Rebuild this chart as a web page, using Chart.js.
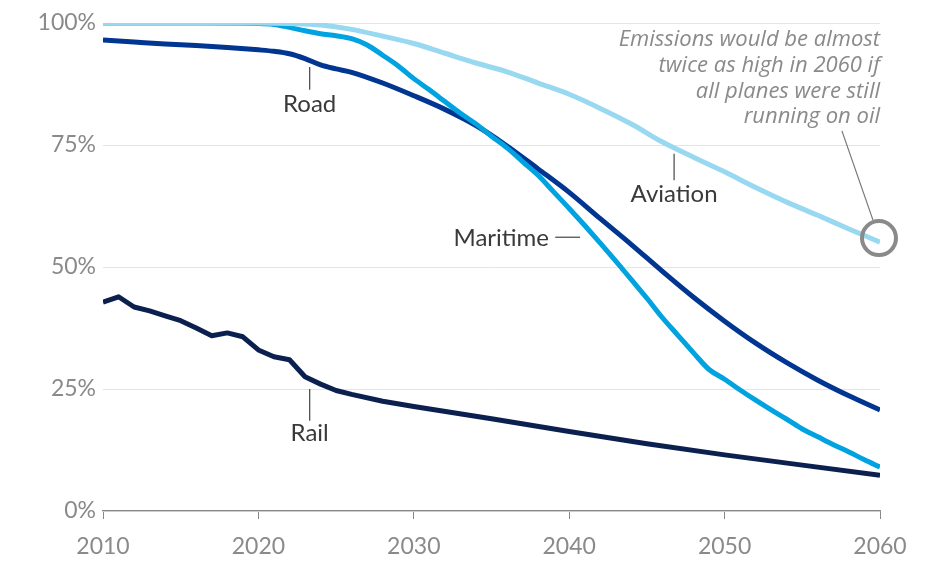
<!DOCTYPE html>
<html>
<head>
<meta charset="utf-8">
<script src="https://cdn.jsdelivr.net/npm/chart.js@4.4.1/dist/chart.umd.min.js"></script>
<style>
  html, body { margin: 0; padding: 0; background: #fff; }
</style>
</head>
<body>
<canvas id="emissions" width="948" height="562"></canvas>
<script>
// share of emissions still coming from oil, by transport mode (%)
const aviationYears = [2010, 2020, 2022, 2024, 2026, 2028, 2030, 2032, 2034, 2036, 2038, 2040, 2042, 2044, 2046, 2048, 2050, 2052, 2054, 2056, 2058, 2060];
const aviationShare = [100, 100, 99.9, 99.6, 98.7, 97.3, 95.8, 93.8, 91.8, 90.0, 87.7, 85.4, 82.5, 79.3, 75.6, 72.5, 69.5, 66.3, 63.3, 60.6, 57.8, 55.1];

const maritimeYears = [2010, 2016, 2020, 2021, 2022, 2023, 2024, 2025, 2026, 2027, 2028, 2029, 2030, 2031, 2032, 2033, 2034, 2035, 2036, 2037, 2038, 2039, 2040, 2041, 2042, 2043, 2044, 2045, 2046, 2047, 2048, 2049, 2050, 2051, 2052, 2053, 2054, 2055, 2056, 2057, 2058, 2059, 2060];
const maritimeShare = [100, 100, 99.9, 99.7, 99.1, 98.4, 97.8, 97.4, 96.8, 95.5, 93.4, 91.2, 88.6, 86.3, 83.9, 81.5, 79.3, 76.8, 74.4, 71.6, 68.8, 65.4, 62.0, 58.5, 54.9, 51.2, 47.4, 43.6, 39.6, 36.0, 32.4, 29.0, 27.0, 24.8, 22.7, 20.7, 18.8, 16.8, 15.2, 13.6, 12.1, 10.5, 9.0];

const roadYears = [2010, 2012, 2014, 2016, 2018, 2020, 2021, 2022, 2023, 2024, 2025, 2026, 2028, 2030, 2032, 2034, 2036, 2038, 2040, 2042, 2044, 2046, 2048, 2050, 2052, 2054, 2056, 2058, 2060];
const roadShare = [96.5, 96.1, 95.7, 95.4, 95.0, 94.5, 94.2, 93.7, 92.7, 91.4, 90.6, 89.9, 87.7, 85.1, 82.3, 79.0, 74.8, 70.1, 65.3, 59.9, 54.6, 49.1, 43.8, 38.9, 34.4, 30.4, 26.8, 23.6, 20.7];

const railYears = [2010, 2011, 2012, 2013, 2014, 2015, 2016, 2017, 2018, 2019, 2020, 2021, 2022, 2023, 2024, 2025, 2026, 2028, 2030, 2035, 2040, 2045, 2050, 2055, 2060];
const railShare = [42.8, 43.9, 41.8, 41.0, 40.0, 39.0, 37.5, 35.9, 36.5, 35.7, 33.0, 31.6, 31.0, 27.5, 26.0, 24.7, 23.9, 22.5, 21.4, 18.9, 16.3, 13.8, 11.5, 9.4, 7.3];

const yTicks = [0, 25, 50, 75, 100];
const xTicks = [2010, 2020, 2030, 2040, 2050, 2060];

const noteLines = ['Emissions would be almost', 'twice as high in 2060 if', 'all planes were still', 'running on oil'];

function points(years, values) {
  return years.map(function(y, i){ return { x: y, y: values[i] }; });
}

function series(label, years, values, color, smooth) {
  return {
    label: label,
    data: points(years, values),
    borderColor: color,
    borderWidth: 5,
    pointRadius: 0,
    cubicInterpolationMode: smooth ? 'monotone' : 'default',
    tension: 0,
    borderCapStyle: 'butt',
    borderJoinStyle: 'round',
    fill: false
  };
}

const FONT = 'Lato, "Noto Sans", sans-serif';

// series labels with their little leader strokes, in data units
const callouts = [
  { text: 'Road', x: 2023.3, y: 83.4, align: 'center', lead: [[2023.3, 91.0], [2023.3, 86.3]] },
  { text: 'Rail', x: 2023.3, y: 16.0, align: 'center', lead: [[2023.3, 25.0], [2023.3, 18.5]] },
  { text: 'Maritime', x: 2038.7, y: 55.9, align: 'right', lead: [[2039.1, 56.1], [2040.7, 56.1]] },
  { text: 'Aviation', x: 2046.75, y: 65.0, align: 'center', lead: [[2046.75, 73.2], [2046.75, 67.8]] }
];

const labelPlugin = {
  id: 'labels',
  afterDatasetsDraw: function(chart) {
    const ctx = chart.ctx;
    const xs = chart.scales.x, ys = chart.scales.y;
    const px = function(v){ return xs.getPixelForValue(v); };
    const py = function(v){ return ys.getPixelForValue(v); };
    ctx.save();

    ctx.strokeStyle = '#444';
    ctx.lineWidth = 1.2;
    ctx.fillStyle = '#3a3a3a';
    ctx.font = '24px ' + FONT;
    ctx.textBaseline = 'middle';
    callouts.forEach(function(c){
      ctx.beginPath();
      ctx.moveTo(px(c.lead[0][0]), py(c.lead[0][1]));
      ctx.lineTo(px(c.lead[1][0]), py(c.lead[1][1]));
      ctx.stroke();
      ctx.textAlign = c.align;
      ctx.fillText(c.text, px(c.x), py(c.y));
    });

    // note about aviation, right aligned to the last year
    ctx.fillStyle = '#8a8a8a';
    ctx.font = 'italic 22px "Open Sans", ' + FONT;
    ctx.textAlign = 'right';
    const top = py(96.5);
    noteLines.forEach(function(line, i){
      ctx.fillText(line, px(2060), top + i * 25.7);
    });

    // pointer from the note down to the circled end of the aviation line
    const last = aviationShare.length - 1;
    const cx = px(aviationYears[last]) - 1;
    const cy = py(aviationShare[last]) - 4;
    ctx.strokeStyle = '#777';
    ctx.lineWidth = 1.2;
    ctx.beginPath();
    ctx.moveTo(px(2057.55), py(77.9));
    ctx.lineTo(cx - 6, cy - 18);
    ctx.stroke();

    ctx.strokeStyle = '#8a8a8a';
    ctx.lineWidth = 4;
    ctx.beginPath();
    ctx.arc(cx, cy, 17, 0, Math.PI * 2);
    ctx.stroke();

    ctx.restore();
  }
};

const chart = new Chart(document.getElementById('emissions'), {
  type: 'line',
  data: {
    datasets: [
      series('Aviation', aviationYears, aviationShare, '#98d8f0', true),
      series('Maritime', maritimeYears, maritimeShare, '#00a3df', true),
      series('Road', roadYears, roadShare, '#003591', true),
      series('Rail', railYears, railShare, '#0c2050', false)
    ]
  },
  options: {
    responsive: false,
    devicePixelRatio: 1,
    animation: false,
    layout: { padding: { top: 23, right: 68, left: 0, bottom: 0 } },
    plugins: { legend: { display: false }, tooltip: { enabled: false } },
    scales: {
      x: {
        type: 'linear',
        min: 2010,
        max: 2060,
        afterBuildTicks: function(s){ s.ticks = xTicks.map(function(v){ return { value: v }; }); },
        afterFit: function(s){ s.height = 51; },
        grid: { drawOnChartArea: false, drawTicks: true, tickLength: 8, color: '#888', lineWidth: 1 },
        border: { display: true, color: '#888', width: 1.2 },
        ticks: {
          autoSkip: false,
          maxRotation: 0,
          padding: 14,
          color: '#8a8a8a',
          font: { family: FONT, size: 23 },
          callback: function(v){ return String(v); }
        }
      },
      y: {
        min: 0,
        max: 100,
        afterBuildTicks: function(s){ s.ticks = yTicks.map(function(v){ return { value: v }; }); },
        afterFit: function(s){ s.width = 103; },
        grid: { color: '#e4e4e4', lineWidth: 1, drawTicks: false },
        border: { display: false },
        ticks: {
          padding: 7,
          color: '#8a8a8a',
          font: { family: FONT, size: 23 },
          callback: function(v){ return v + '%'; }
        }
      }
    }
  },
  plugins: [labelPlugin]
});
</script>
</body>
</html>
